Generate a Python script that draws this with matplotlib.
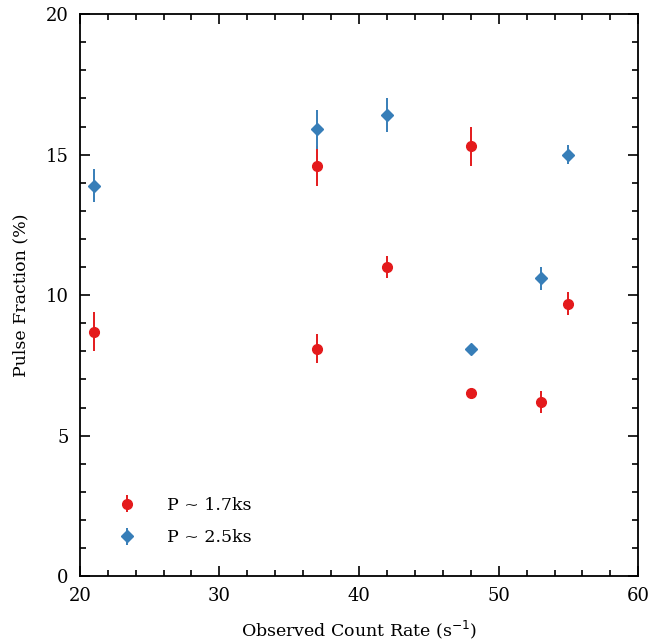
import matplotlib
matplotlib.use("Agg")
import matplotlib.pyplot as plt
from matplotlib.ticker import MultipleLocator

# observed count rate (s^-1) and pulse fraction (%)
rate_17 = [21, 37, 37, 42, 48, 48, 53, 55]
pf_17 = [8.7, 8.1, 14.6, 11.0, 6.5, 15.3, 6.2, 9.7]
err_17 = [0.7, 0.5, 0.7, 0.4, 0.15, 0.7, 0.4, 0.4]

rate_25 = [21, 37, 42, 48, 53, 55]
pf_25 = [13.9, 15.9, 16.4, 8.1, 10.6, 15.0]
err_25 = [0.6, 0.7, 0.6, 0.15, 0.4, 0.35]

plt.rcParams["font.family"] = ["DejaVu Serif"]

fig = plt.figure(figsize=(6.54, 6.43), dpi=100)
ax = fig.add_axes([0.122, 0.104, 0.854, 0.874])

ax.errorbar(rate_17, pf_17, yerr=err_17, fmt="o", color="#e41a1c",
            ms=7, elinewidth=1.4, capsize=0, label="P ~ 1.7ks")
ax.errorbar(rate_25, pf_25, yerr=err_25, fmt="D", color="#377eb8",
            ms=6, elinewidth=1.4, capsize=0, label="P ~ 2.5ks")

ax.set_xlim(20, 60)
ax.set_ylim(0, 20)
ax.xaxis.set_major_locator(MultipleLocator(10))
ax.xaxis.set_minor_locator(MultipleLocator(2))
ax.yaxis.set_major_locator(MultipleLocator(5))
ax.yaxis.set_minor_locator(MultipleLocator(1))
ax.tick_params(which="both", direction="in", top=True, right=True,
               labelsize=13, width=1.2)
ax.tick_params(which="major", length=7, pad=8)
ax.tick_params(which="minor", length=4)
for s in ax.spines.values():
    s.set_linewidth(1.3)

ax.set_xlabel("Observed Count Rate (s$^{-1}$)", fontsize=12.5, labelpad=10)
ax.set_ylabel("Pulse Fraction (%)", fontsize=12.5, labelpad=12)

ax.legend(loc="lower left", frameon=False, fontsize=12.5,
          bbox_to_anchor=(0.025, 0.025), handletextpad=1.3, labelspacing=0.9)

fig.savefig("out.png", dpi=100)
